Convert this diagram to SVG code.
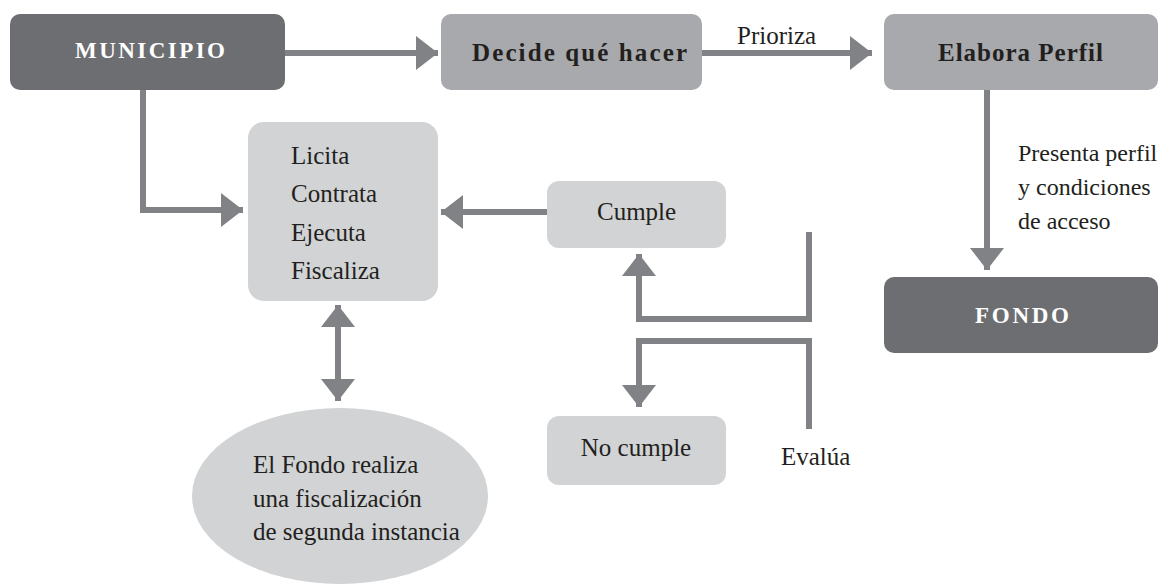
<svg xmlns="http://www.w3.org/2000/svg" width="1160" height="584" viewBox="0 0 1160 584">
<style>
.dark{fill:#6d6e71}
.mid{fill:#a7a9ac}
.light{fill:#d1d3d4}
.t{font-family:"Liberation Serif","Times New Roman",serif;font-size:25px;fill:#231f20}
.s{font-size:24px}
.b{font-family:"Liberation Serif","Times New Roman",serif;font-size:25px;font-weight:bold;fill:#231f20}
.w{fill:#ffffff;font-size:23px}
.c{fill:none;stroke:#808285;stroke-width:6}
</style>
<defs>
<marker id="ah" viewBox="0 0 22 34" refX="22" refY="17" markerWidth="22" markerHeight="34" markerUnits="userSpaceOnUse" orient="auto-start-reverse">
<path d="M0,0 L22,17 L0,34 Z" fill="#808285"/>
</marker>
</defs>
<rect width="1160" height="584" fill="#ffffff"/>
<g id="connectors">
<path class="c" d="M285,53 H438" marker-end="url(#ah)"/>
<path class="c" d="M702,53 H872" marker-end="url(#ah)"/>
<path class="c" d="M987,90 V270" marker-end="url(#ah)"/>
<path class="c" d="M143,90 V210 H243" marker-end="url(#ah)"/>
<path class="c" d="M547,212 H441" marker-end="url(#ah)"/>
<path class="c" d="M809,232 V319 H639 V254" marker-end="url(#ah)"/>
<path class="c" d="M809,429 V341 H639 V407" marker-end="url(#ah)"/>
<path class="c" d="M338,305 V401" marker-start="url(#ah)" marker-end="url(#ah)"/>
<text class="t" x="737" y="44">Prioriza</text>
<text class="t s" x="1018" y="161">Presenta perfil</text>
<text class="t s" x="1018" y="195">y condiciones</text>
<text class="t s" x="1018" y="229">de acceso</text>
<text class="t" x="781" y="465">Evalúa</text>
</g>
<g id="municipio">
<rect class="dark" x="10" y="14" width="275" height="76" rx="10"/>
<text class="b w" x="75" y="58" textLength="150" lengthAdjust="spacing">MUNICIPIO</text>
</g>
<g id="decide">
<rect class="mid" x="441" y="14" width="261" height="76" rx="10"/>
<text class="b" x="472" y="61" textLength="215" lengthAdjust="spacing">Decide qué hacer</text>
</g>
<g id="elabora">
<rect class="mid" x="884" y="14" width="274" height="76" rx="10"/>
<text class="b" x="938" y="61" textLength="165" lengthAdjust="spacing">Elabora Perfil</text>
</g>
<g id="fondo">
<rect class="dark" x="884" y="277" width="274" height="76" rx="10"/>
<text class="b w" x="975" y="323" textLength="94" lengthAdjust="spacing">FONDO</text>
</g>
<g id="licita">
<rect class="light" x="248" y="122" width="190" height="179" rx="16"/>
<text class="t" x="291" y="164">Licita</text>
<text class="t" x="291" y="202">Contrata</text>
<text class="t" x="291" y="241">Ejecuta</text>
<text class="t" x="291" y="279">Fiscaliza</text>
</g>
<g id="cumple">
<rect class="light" x="547" y="181" width="179" height="67" rx="12"/>
<text class="t" x="597" y="220">Cumple</text>
</g>
<g id="nocumple">
<rect class="light" x="547" y="416" width="179" height="69" rx="12"/>
<text class="t" x="636" y="456" text-anchor="middle">No cumple</text>
</g>
<g id="fondo-fiscaliza">
<ellipse class="light" cx="340" cy="496" rx="148" ry="88"/>
<text class="t" x="253" y="473">El Fondo realiza</text>
<text class="t" x="253" y="507">una fiscalización</text>
<text class="t" x="253" y="540">de segunda instancia</text>
</g>
</svg>
